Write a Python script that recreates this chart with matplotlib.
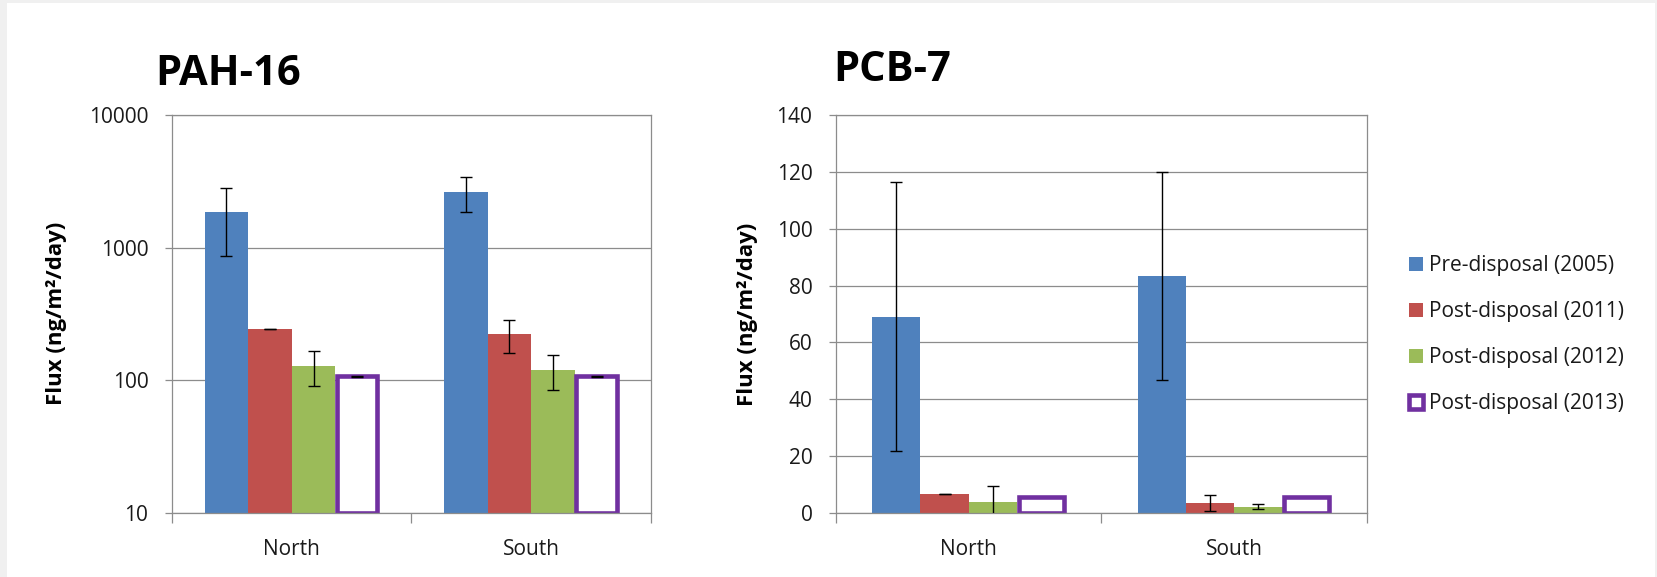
import matplotlib
matplotlib.use('Agg')
import matplotlib.pyplot as plt
import numpy as np
from matplotlib.patches import Rectangle
from matplotlib.ticker import FixedLocator, FixedFormatter

plt.rcParams['font.family'] = ['Open Sans', 'DejaVu Sans']

sites = ['North', 'South']
labels = ['Pre-disposal (2005)', 'Post-disposal (2011)', 'Post-disposal (2012)', 'Post-disposal (2013)']

# PAH-16 flux (ng/m2/day), per series: [North, South]
pah_2005 = [1850, 2640]
pah_2011 = [244, 223]
pah_2012 = [128, 120]
pah_2013 = [107, 107]
pah_2005_err = [980, 795]
pah_2011_err = [1, 63]
pah_2012_err = [38, 36]
pah_2013_err = [1, 1]

# PCB-7 flux (ng/m2/day)
pcb_2005 = [69.0, 83.4]
pcb_2011 = [6.7, 3.6]
pcb_2012 = [4.0, 2.2]
pcb_2013 = [5.6, 5.6]
pcb_2005_err = [47.3, 36.5]
pcb_2011_err = [0.1, 2.9]
pcb_2012_err = [5.4, 0.8]
pcb_2013_err = [0.2, 0.2]

colors = ['#4F81BD', '#C0504D', '#9BBB59', '#7030A0']
grid_c = '#8c8c8c'
txt_c = '#1a1a1a'

W, H = 1658, 577
fig = plt.figure(figsize=(W / 100, H / 100), dpi=100, facecolor='#f0f0f0')
fig.patches.append(Rectangle((7 / W, 0), (1655 - 7) / W, 1 - 3 / H,
                             transform=fig.transFigure, facecolor='white',
                             edgecolor='none', zorder=-5))


def px_axes(x0, x1, y0, y1):
    return fig.add_axes([x0 / W, 1 - y1 / H, (x1 - x0) / W, (y1 - y0) / H])


def draw(ax, vals, errs, bottom, open_err_z=3):
    w = 1 / 5.5
    x = np.arange(len(sites))
    bars = []
    for i in range(4):
        pos = x + (i - 1.5) * w
        v = np.array(vals[i], dtype=float)
        ez = 3
        if i < 3:
            b = ax.bar(pos, v - bottom, w, bottom=bottom, color=colors[i],
                       edgecolor='none', label=labels[i], zorder=2)
        else:
            b = ax.bar(pos, v - bottom, w * 0.93, bottom=bottom, facecolor='white',
                       edgecolor=colors[i], linewidth=3.3, label=labels[i], zorder=2)
            ez = open_err_z
        ax.errorbar(pos, v, yerr=errs[i], fmt='none', ecolor='black',
                    elinewidth=1.0, capsize=4.3, capthick=1.0, zorder=ez)
        bars.append(b)
    ax.set_xlim(-0.5, len(sites) - 0.5)
    ax.set_xticks(x)
    ax.set_xticklabels(sites, fontsize=15, color=txt_c)
    ax.xaxis.set_minor_locator(FixedLocator([-0.5, 0.5, 1.5]))
    ax.tick_params(axis='x', which='major', length=0, pad=19)
    ax.tick_params(axis='x', which='minor', length=7, color=grid_c, width=0.9)
    ax.tick_params(axis='y', which='major', length=5, color=grid_c, width=0.9,
                   labelsize=15, labelcolor=txt_c, pad=12)
    ax.tick_params(axis='y', which='minor', length=0)
    ax.grid(axis='y', which='major', color=grid_c, linewidth=0.9)
    ax.set_axisbelow(True)
    for s in ax.spines.values():
        s.set_color(grid_c)
        s.set_linewidth(0.9)
    return bars


ax1 = px_axes(172, 651, 115, 513)
ax1.set_yscale('log')
ax1.set_ylim(10, 10000)
draw(ax1, [pah_2005, pah_2011, pah_2012, pah_2013],
     [pah_2005_err, pah_2011_err, pah_2012_err, pah_2013_err], bottom=10)
ax1.yaxis.set_major_locator(FixedLocator([10, 100, 1000, 10000]))
ax1.yaxis.set_major_formatter(FixedFormatter(['10', '100', '1000', '10000']))

ax2 = px_axes(836, 1367, 115, 513)
ax2.set_ylim(0, 140)
ax2.set_yticks(np.arange(0, 141, 20))
bars = draw(ax2, [pcb_2005, pcb_2011, pcb_2012, pcb_2013],
            [pcb_2005_err, pcb_2011_err, pcb_2012_err, pcb_2013_err], bottom=0,
            open_err_z=1.5)

ax2.legend(handles=bars, loc='center left', bbox_to_anchor=(1409 / W, 1 - 335 / H),
           bbox_transform=fig.transFigure, frameon=False, fontsize=15,
           handlelength=0.67, handleheight=0.67, handletextpad=0.3,
           labelspacing=1.2, borderpad=0, borderaxespad=0, labelcolor=txt_c)

fig.text(155 / W, 1 - 85 / H, 'PAH-16', fontsize=30, fontweight='bold', va='baseline')
fig.text(833 / W, 1 - 81 / H, 'PCB-7', fontsize=30, fontweight='bold', va='baseline')

ylab = 'Flux (ng/m\u00b2/day)'
fig.text(57 / W, 1 - 313 / H, ylab, fontsize=16, fontweight='bold', rotation=90,
         ha='center', va='center')
fig.text(748 / W, 1 - 314 / H, ylab, fontsize=16, fontweight='bold', rotation=90,
         ha='center', va='center')

fig.savefig('out.png', dpi=100, facecolor=fig.get_facecolor())
